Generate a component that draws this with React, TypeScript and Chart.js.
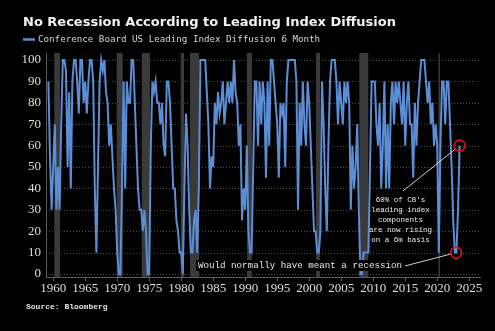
import { useEffect, useRef } from "react";
import { Chart, registerables } from "chart.js";

Chart.register(...registerables);

const TITLE = "No Recession According to Leading Index Diffusion";
const SERIES_LABEL = "Conference Board US Leading Index Diffusion 6 Month";
const SOURCE = "Source: Bloomberg";

// quarterly readings, first one at 1959 Q2
const startYear = 1959.25;
const stepYears = 0.25;

const values1950s = [90, 55, 30];
const values1960s = [
  50, 70, 30, 50, // 1960
  30, 70, 100, 100, // 1961
  95, 50, 85, 40, // 1962
  90, 100, 100, 90, // 1963
  75, 100, 100, 80, // 1964
  90, 75, 90, 100, // 1965
  100, 90, 40, 10, // 1966
  50, 90, 100, 95, // 1967
  100, 85, 80, 60, // 1968
  70, 55, 40, 30, // 1969
];
const values1970s = [
  10, 0, 0, 40, // 1970
  90, 40, 90, 80, // 1971
  80, 100, 100, 80, // 1972
  60, 40, 30, 30, // 1973
  20, 30, 20, 0, // 1974
  0, 60, 90, 85, // 1975
  90, 80, 80, 70, // 1976
  80, 60, 55, 90, // 1977
  90, 80, 60, 40, // 1978
  40, 25, 20, 10, // 1979
];
const values1980s = [
  10, 0, 40, 75, // 1980
  60, 30, 10, 10, // 1981
  25, 30, 10, 40, // 1982
  100, 100, 100, 100, // 1983
  85, 70, 40, 55, // 1984
  50, 80, 70, 85, // 1985
  75, 80, 90, 70, // 1986
  80, 90, 80, 90, // 1987
  80, 100, 85, 80, // 1988
  60, 70, 25, 40, // 1989
];
const values1990s = [
  30, 60, 20, 10, // 1990
  10, 50, 90, 90, // 1991
  60, 90, 70, 90, // 1992
  80, 45, 90, 60, // 1993
  100, 100, 90, 80, // 1994
  70, 45, 80, 75, // 1995
  80, 50, 90, 100, // 1996
  100, 100, 100, 100, // 1997
  90, 30, 80, 60, // 1998
  90, 70, 60, 90, // 1999
];
const values2000s = [
  80, 60, 40, 20, // 2000
  20, 10, 10, 20, // 2001
  90, 70, 40, 20, // 2002
  60, 90, 100, 100, // 2003
  100, 90, 70, 90, // 2004
  80, 70, 90, 80, // 2005
  90, 80, 30, 60, // 2006
  40, 50, 70, 30, // 2007
  0, 0, 10, 10, // 2008
  10, 10, 50, 90, // 2009
];
const values2010s = [
  90, 90, 70, 60, // 2010
  80, 40, 60, 90, // 2011
  40, 70, 40, 80, // 2012
  90, 70, 90, 80, // 2013
  90, 80, 70, 90, // 2014
  60, 80, 90, 70, // 2015
  70, 45, 80, 60, // 2016
  80, 90, 100, 100, // 2017
  100, 90, 80, 90, // 2018
  70, 80, 60, 70, // 2019
];
const values2020s = [
  60, 10, 60, 90, // 2020
  90, 70, 90, 90, // 2021
  70, 50, 25, 10, // 2022
  10, 30, 60, // 2023
];

const recessions: [number, number][] = [
  [1960.17, 1961.06],
  [1969.92, 1970.86],
  [1973.83, 1975.12],
  [1979.92, 1980.44],
  [1981.38, 1982.78],
  [1990.27, 1991.05],
  [2001.06, 2001.7],
  [2007.83, 2009.23],
  [2020.2, 2020.38],
];

const xTicks = [1960, 1965, 1970, 1975, 1980, 1985, 1990, 1995, 2000, 2005, 2010, 2015, 2020, 2025];
const yTicks = [0, 10, 20, 30, 40, 50, 60, 70, 80, 90, 100];

const noteLines = ["60% of CB's", "leading index", "components", "are now rising", "on a 6m basis"];
const recessionNote = "Would normally have meant a recession";
const circleHigh = { x: 2023.5, y: 60 };
const circleLow = { x: 2022.95, y: 10 };

const LINE_COLOR = "#5b8ed4";

export default function App() {
  const ref = useRef<HTMLCanvasElement | null>(null);

  useEffect(() => {
    document.body.style.margin = "0";
    document.body.style.background = "#000";
    const canvas = ref.current;
    if (!canvas) return;

    const all = [
      ...values1950s,
      ...values1960s,
      ...values1970s,
      ...values1980s,
      ...values1990s,
      ...values2000s,
      ...values2010s,
      ...values2020s,
    ];
    const points = all.map((v, i) => ({ x: startYear + i * stepYears, y: v }));

    const decor = {
      id: "decor",
      beforeDraw(chart: any) {
        const ctx = chart.ctx as CanvasRenderingContext2D;
        ctx.save();
        ctx.fillStyle = "#000";
        ctx.fillRect(0, 0, chart.width, chart.height);
        ctx.fillStyle = "#f2f2f2";
        ctx.font = 'bold 13px "DejaVu Sans"';
        ctx.textBaseline = "alphabetic";
        ctx.textAlign = "left";
        ctx.fillText(TITLE, 23, 26);
        ctx.strokeStyle = LINE_COLOR;
        ctx.lineWidth = 2.5;
        ctx.beginPath();
        ctx.moveTo(23, 39.5);
        ctx.lineTo(35, 39.5);
        ctx.stroke();
        ctx.fillStyle = "#d4d4d4";
        ctx.font = '9.2px "DejaVu Sans Mono"';
        ctx.textBaseline = "middle";
        ctx.fillText(SERIES_LABEL, 38, 39.5);
        ctx.fillStyle = "#e6e6e6";
        ctx.font = 'bold 8px "Liberation Mono"';
        ctx.fillText(SOURCE, 26, 307);
        ctx.restore();
      },
      beforeDatasetsDraw(chart: any) {
        const ctx = chart.ctx as CanvasRenderingContext2D;
        const a = chart.chartArea;
        const xs = chart.scales.x;
        const ys = chart.scales.y;
        ctx.save();
        ctx.strokeStyle = "#505050";
        ctx.lineWidth = 1;
        ctx.setLineDash([1, 2]);
        for (const t of yTicks) {
          const y = Math.round(ys.getPixelForValue(t)) + 0.5;
          ctx.beginPath();
          ctx.moveTo(a.left, y);
          ctx.lineTo(a.right, y);
          ctx.stroke();
        }
        ctx.setLineDash([]);
        ctx.fillStyle = "#3a3a3a";
        for (const [s, e] of recessions) {
          const x0 = xs.getPixelForValue(s);
          const x1 = xs.getPixelForValue(e);
          ctx.fillRect(x0, a.top, Math.max(1.5, x1 - x0), a.bottom - a.top);
        }
        ctx.strokeStyle = "#5c5c5c";
        ctx.beginPath();
        ctx.moveTo(a.left + 0.5, a.top);
        ctx.lineTo(a.left + 0.5, a.bottom);
        ctx.moveTo(a.left, a.bottom + 0.5);
        ctx.lineTo(a.right, a.bottom + 0.5);
        for (const t of xTicks) {
          const x = Math.round(xs.getPixelForValue(t)) + 0.5;
          ctx.moveTo(x, a.bottom);
          ctx.lineTo(x, a.bottom + 4);
        }
        ctx.stroke();
        ctx.restore();
      },
      afterDatasetsDraw(chart: any) {
        const ctx = chart.ctx as CanvasRenderingContext2D;
        const xs = chart.scales.x;
        const ys = chart.scales.y;
        const hx = xs.getPixelForValue(circleHigh.x);
        const hy = ys.getPixelForValue(circleHigh.y);
        const lx = xs.getPixelForValue(circleLow.x);
        const ly = ys.getPixelForValue(circleLow.y);
        const r = 5.5;
        ctx.save();
        ctx.font = '9.2px "Liberation Mono"';
        ctx.textBaseline = "middle";
        ctx.textAlign = "left";
        const w = ctx.measureText(recessionNote).width;
        ctx.fillStyle = "#000";
        ctx.fillRect(196, 260, w + 4, 11);
        ctx.fillStyle = "#e8e8e8";
        ctx.fillText(recessionNote, 198, 266);
        ctx.font = '7.5px "Liberation Mono"';
        ctx.textAlign = "center";
        noteLines.forEach((s, i) => ctx.fillText(s, 400.5, 200.5 + i * 9.9));
        ctx.strokeStyle = "#cfcfcf";
        ctx.lineWidth = 1;
        const conn = (x0: number, y0: number, cx: number, cy: number) => {
          const dx = cx - x0;
          const dy = cy - y0;
          const d = Math.hypot(dx, dy);
          ctx.beginPath();
          ctx.moveTo(x0, y0);
          ctx.lineTo(cx - (dx / d) * r, cy - (dy / d) * r);
          ctx.stroke();
        };
        conn(403, 191, hx, hy);
        conn(405, 266, lx, ly);
        ctx.strokeStyle = "#e3101a";
        ctx.lineWidth = 1.6;
        ctx.beginPath();
        ctx.arc(hx, hy, r, 0, Math.PI * 2);
        ctx.stroke();
        ctx.beginPath();
        ctx.arc(lx, ly, r, 0, Math.PI * 2);
        ctx.stroke();
        ctx.restore();
      },
    };

    const chart = new Chart(canvas, {
      type: "line",
      data: {
        datasets: [
          {
            label: SERIES_LABEL,
            data: points,
            borderColor: LINE_COLOR,
            borderWidth: 2,
            pointRadius: 0,
            tension: 0,
            fill: false,
          },
        ],
      },
      options: {
        responsive: false,
        animation: false,
        layout: { padding: { top: 53, right: 14, left: 0, bottom: 0 } },
        plugins: { legend: { display: false }, title: { display: false }, tooltip: { enabled: false } },
        scales: {
          x: {
            type: "linear",
            min: 1958.875,
            max: 2026.84,
            afterBuildTicks: (axis: any) => {
              axis.ticks = xTicks.map((v) => ({ value: v }));
            },
            afterFit: (axis: any) => {
              axis.height = 54;
            },
            grid: { display: false, drawTicks: false },
            border: { display: false },
            ticks: {
              color: "#dedede",
              font: { family: '"Liberation Serif"', size: 13 },
              padding: 4,
              maxRotation: 0,
              autoSkip: false,
              callback: (v: any) => String(v),
            },
          },
          y: {
            min: -1.4,
            max: 103.3,
            afterBuildTicks: (axis: any) => {
              axis.ticks = yTicks.map((v) => ({ value: v }));
            },
            afterFit: (axis: any) => {
              axis.width = 46;
            },
            grid: { display: false, drawTicks: false },
            border: { display: false },
            ticks: {
              color: "#dedede",
              font: { family: '"Liberation Serif"', size: 13 },
              padding: 5,
              callback: (v: any) => String(v),
            },
          },
        },
      },
      plugins: [decor],
    } as any);

    return () => chart.destroy();
  }, []);

  return (
    <div style={{ width: 495, height: 331, background: "#000" }}>
      <canvas ref={ref} width={495} height={331} style={{ display: "block" }} />
    </div>
  );
}
